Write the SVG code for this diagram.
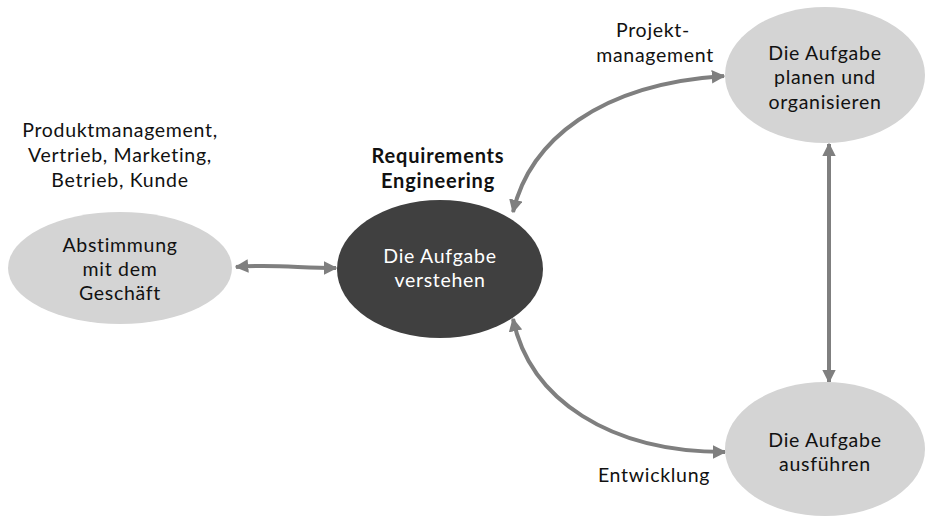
<svg xmlns="http://www.w3.org/2000/svg" width="925" height="516" viewBox="0 0 925 516">
  <style>
    text { font-family: Lato, "Open Sans", "Liberation Sans", sans-serif; font-size: 19.5px; letter-spacing: 0.7px; text-anchor: middle; fill: #111111; }
    .bold { font-weight: bold; font-size: 20px; letter-spacing: 0.8px; }
    .light { fill: #d4d4d4; }
    .dark { fill: #404040; }
    .inv { fill: #ffffff; }
    .conn { fill: none; stroke: #7f7f7f; stroke-width: 4; marker-start: url(#arrow); marker-end: url(#arrow); }
  </style>
  <defs>
    <marker id="arrow" viewBox="0 0 10 10" refX="9" refY="5" markerWidth="3.4" markerHeight="3.4" orient="auto-start-reverse" markerUnits="strokeWidth">
      <path d="M0,0 L10,5 L0,10 z" fill="#7f7f7f"/>
    </marker>
  </defs>
  <rect width="925" height="516" fill="#ffffff"/>

  <g id="connectors">
    <path class="conn" d="M236,267 C270,264 300,268 336,268"/>
    <path class="conn" d="M513,212 C530,140 600,84 724,76"/>
    <path class="conn" d="M513,319 C530,400 610,452 725,452"/>
    <path class="conn" d="M829,144 L829,382"/>
  </g>

  <g id="stakeholders">
    <text x="120" y="137">Produktmanagement,</text>
    <text x="120" y="162">Vertrieb, Marketing,</text>
    <text x="120" y="187">Betrieb, Kunde</text>
  </g>

  <g id="abstimmung">
    <ellipse class="light" cx="120" cy="268" rx="112" ry="56"/>
    <text x="120" y="252">Abstimmung</text>
    <text x="120" y="276">mit dem</text>
    <text x="120" y="300">Geschäft</text>
  </g>

  <g id="requirements-engineering">
    <text class="bold" x="438" y="163">Requirements</text>
    <text class="bold" x="438" y="188">Engineering</text>
  </g>

  <g id="verstehen">
    <ellipse class="dark" cx="440" cy="269" rx="103" ry="69"/>
    <text class="inv" x="440" y="263">Die Aufgabe</text>
    <text class="inv" x="440" y="287">verstehen</text>
  </g>

  <g id="projektmanagement">
    <text x="653" y="37">Projekt-</text>
    <text x="655" y="62">management</text>
  </g>

  <g id="planen">
    <ellipse class="light" cx="825" cy="75" rx="100" ry="68"/>
    <text x="825" y="60">Die Aufgabe</text>
    <text x="825" y="84">planen und</text>
    <text x="825" y="109">organisieren</text>
  </g>

  <g id="ausfuehren">
    <ellipse class="light" cx="825" cy="449" rx="100" ry="67"/>
    <text x="825" y="447">Die Aufgabe</text>
    <text x="825" y="471">ausführen</text>
  </g>

  <g id="entwicklung">
    <text x="654" y="482">Entwicklung</text>
  </g>
</svg>
